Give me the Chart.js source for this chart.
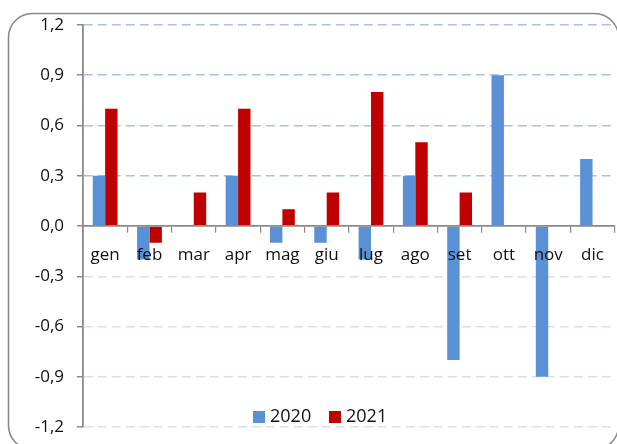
<!DOCTYPE html>
<html>
<head>
<meta charset="utf-8">
<script src="https://cdn.jsdelivr.net/npm/chart.js@4.4.1/dist/chart.umd.min.js"></script>
<style>
  html, body { margin: 0; padding: 0; background: #fff; }
  #wrap { width: 617px; height: 444px; position: relative; }
</style>
</head>
<body>
<div id="wrap"><canvas id="chart"></canvas></div>
<script>
// dati
const mesi = ["gen", "feb", "mar", "apr", "mag", "giu", "lug", "ago", "set", "ott", "nov", "dic"];
const serie2020 = [0.3, -0.2, 0, 0.3, -0.1, -0.1, -0.2, 0.3, -0.8, 0.9, -0.9, 0.4];
const serie2021 = [0.7, -0.1, 0.2, 0.7, 0.1, 0.2, 0.8, 0.5, 0.2, null, null, null];
const etichetteY = ["-1,2", "-0,9", "-0,6", "-0,3", "0,0", "0,3", "0,6", "0,9", "1,2"];

const grigio = "#8a8a8a";
const font = "'Open Sans', sans-serif";

// cornice arrotondata attorno al grafico
const cornice = {
  id: "cornice",
  beforeDraw(chart) {
    const ctx = chart.ctx;
    ctx.save();
    ctx.strokeStyle = grigio;
    ctx.lineWidth = 1.6;
    ctx.beginPath();
    ctx.roundRect(8.5, 13.5, 610, 436, 24);
    ctx.stroke();
    ctx.restore();
  }
};

// legenda disegnata dentro l'area del grafico, in basso
const legendaInterna = {
  id: "legendaInterna",
  afterDraw(chart) {
    const ctx = chart.ctx;
    const pos = [{ box: 253, text: 270 }, { box: 329, text: 346 }];
    ctx.save();
    ctx.font = "18px " + font;
    ctx.textBaseline = "middle";
    chart.data.datasets.forEach((ds, i) => {
      ctx.fillStyle = ds.backgroundColor;
      ctx.fillRect(pos[i].box, 411, 12, 12);
      ctx.fillStyle = "#111";
      ctx.fillText(ds.label, pos[i].text, 417);
    });
    ctx.restore();
  }
};

new Chart(document.getElementById("chart"), {
  type: "bar",
  data: {
    labels: mesi,
    datasets: [
      { label: "2020", data: serie2020, backgroundColor: "#5990d6" },
      { label: "2021", data: serie2021, backgroundColor: "#c00000" }
    ]
  },
  options: {
    responsive: true,
    maintainAspectRatio: false,
    animation: false,
    layout: { padding: { left: 0, top: 25, right: 1, bottom: 17 } },
    datasets: { bar: { barPercentage: 1, categoryPercentage: 0.56 } },
    plugins: { legend: { display: false }, tooltip: { enabled: false } },
    scales: {
      x: {
        position: { y: 0 },
        grid: { drawOnChartArea: false, offset: true, tickLength: 6, color: grigio, lineWidth: 1.2, z: 1 },
        border: { color: grigio, width: 1.8, z: 1 },
        ticks: { color: "#111", font: { family: font, size: 17 }, padding: 13, z: 1 }
      },
      y: {
        min: -1.2,
        max: 1.2,
        afterFit: (scale) => {
          scale.width = 83;
          scale.paddingTop = 0;
          scale.paddingBottom = 0;
        },
        afterBuildTicks: (scale) => {
          scale.ticks = etichetteY.map(t => ({ value: parseFloat(t.replace(",", ".")) }));
        },
        grid: {
          tickLength: 6,
          tickColor: grigio,
          lineWidth: 1.5,
          color: (c) => {
            const v = c.tick ? c.tick.value : 0;
            if (Math.abs(v) < 1e-9) return "rgba(0,0,0,0)";
            return v > 0 ? "#a8c1ec" : "#d4dff6";
          }
        },
        border: { color: grigio, width: 1.8, dash: [9, 5] },
        ticks: {
          color: "#111",
          font: { family: font, size: 17 },
          padding: 13,
          callback: (v, i) => etichetteY[i]
        }
      }
    }
  },
  plugins: [cornice, legendaInterna]
});
</script>
</body>
</html>
